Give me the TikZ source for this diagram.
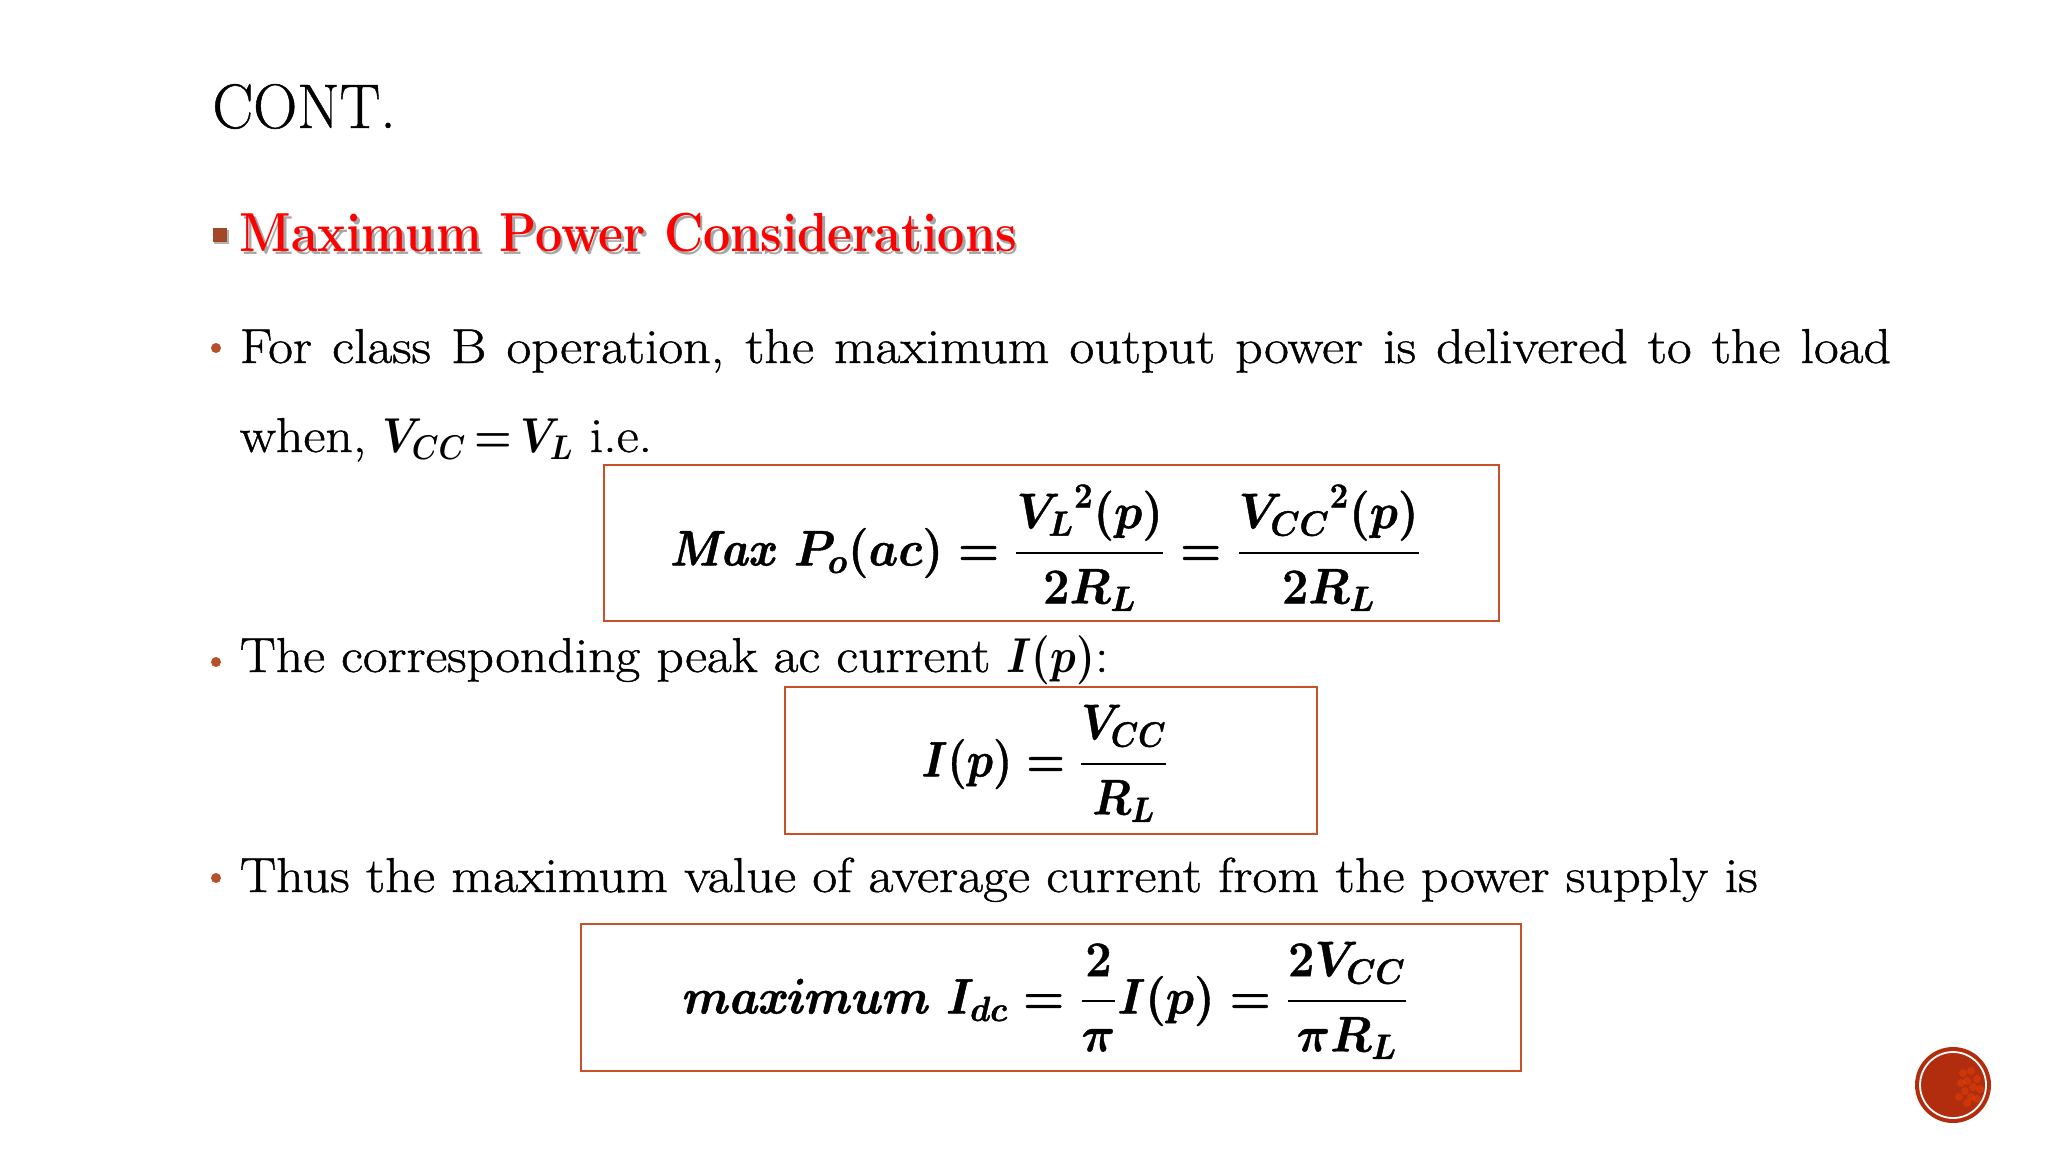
\RequirePackage{fix-cm}
\documentclass[tikz,border=0pt]{standalone}
\usepackage{amsmath}
\definecolor{boxline}{HTML}{C8502A}
\definecolor{bulletcol}{HTML}{B5502A}
\definecolor{discfill}{HTML}{B22D0E}
\newcommand{\shadowtext}[1]{\rlap{\hspace{1.5pt}\raisebox{-1.5pt}{\textcolor{black!35}{#1}}}\textcolor{red}{#1}}
\newcommand{\narrowmath}[1]{\scalebox{0.8}[1]{\boldmath$#1$}}
\newcommand{\thicktext}[1]{\special{pdf:code q 2 Tr 0.22 w}#1\special{pdf:code Q}}
\tikzset{
  linetext/.style={anchor=base west, inner sep=0pt, xscale=1.1, transform shape, font=\fontsize{24.5}{30}\selectfont},
  eqbox/.style={draw=boxline, line width=1pt, inner sep=0pt},
  eqtext/.style={anchor=base, inner sep=0pt, transform shape, font=\fontsize{25}{30}\selectfont\boldmath},
  dotbullet/.style={circle, fill=bulletcol, inner sep=0pt, minimum size=5pt}
}
\begin{document}
\begin{tikzpicture}[x=0.5pt,y=-0.5pt]
\useasboundingbox (0,0) rectangle (2048,1152);
\node [anchor=base west, inner sep=0pt, font=\fontsize{31.5}{36}\selectfont, xscale=0.97, transform shape] (title) at (212,128) {\thicktext{CONT.}};
% heading
\fill [black!30] (214,230) rectangle (229,244);
\node [rectangle, fill=bulletcol!90!black, inner sep=0pt, minimum width=7pt, minimum height=7pt] (squarebullet) at (219.5,235) {};
\node [anchor=base west, inner sep=0pt, xscale=0.88, transform shape, font=\fontsize{27.5}{32}\selectfont\bfseries] (heading) at (239.5,251) {\shadowtext{Maximum Power Considerations}};
% first bullet
\node [dotbullet] (bulletone) at (216,348) {};
\node [linetext] (lineone) at (239.5,363) {\makebox[750.5pt][s]{\thicktext{For class B operation, the maximum output power is delivered to the load}}};
\node [linetext] (linetwo) at (239.5,452) {\thicktext{when,} \narrowmath{V_{CC}\,{=}\,V_L} \thicktext{i.e.}};
\node [eqbox, minimum width=447.5pt, minimum height=78pt] (boxone) at (1051,543) {};
\node [eqtext, xscale=0.94] (eqone) at (1045,565.5) {\thicktext{$\mathit{Max}\ P_o(ac)=\dfrac{{V_L}^2(p)}{2R_L}=\dfrac{{V_{CC}}^2(p)}{2R_L}$}};
% second bullet
\node [dotbullet] (bullettwo) at (216,662) {};
\node [linetext, xscale=0.995] (linethree) at (239.5,672) {\thicktext{The corresponding peak ac current} \narrowmath{I(p)}\thicktext{:}};
\node [eqbox, minimum width=266pt, minimum height=73.5pt] (boxtwo) at (1051,760.5) {};
\node [eqtext, xscale=0.88] (eqtwo) at (1045,776.5) {\thicktext{$I(p)=\dfrac{V_{CC}}{R_L}$}};
% third bullet
\node [dotbullet] (bulletthree) at (216,878) {};
\node [linetext, xscale=1.006] (linefour) at (239.5,892) {\thicktext{Thus the maximum value of average current from the power supply is}};
\node [eqbox, minimum width=470pt, minimum height=73.5pt] (boxthree) at (1051,997.5) {};
\node [eqtext, xscale=0.94] (eqthree) at (1044,1013.5) {\thicktext{$\scalebox{1.06}[1]{$\mathit{maximum}$}\ I_{dc}=\dfrac{2}{\pi}I(p)=\dfrac{2V_{CC}}{\pi R_L}$}};
% disc in the corner
\node [circle, fill=discfill, inner sep=0pt, minimum size=38pt] (disc) at (1953,1085) {};
\foreach \dx/\dy in {10/-12,18/-14,24/-6,14/-4,20/2,27/4,12/6,18/12,24/14,8/-2,6/12,14/18}
  \fill [orange!60!red, opacity=0.35] (1953+\dx,1085+\dy) circle (2pt);
\node [circle, draw=white, line width=0.9pt, inner sep=0pt, minimum size=33pt] (discring) at (disc) {};
\end{tikzpicture}
\end{document}
